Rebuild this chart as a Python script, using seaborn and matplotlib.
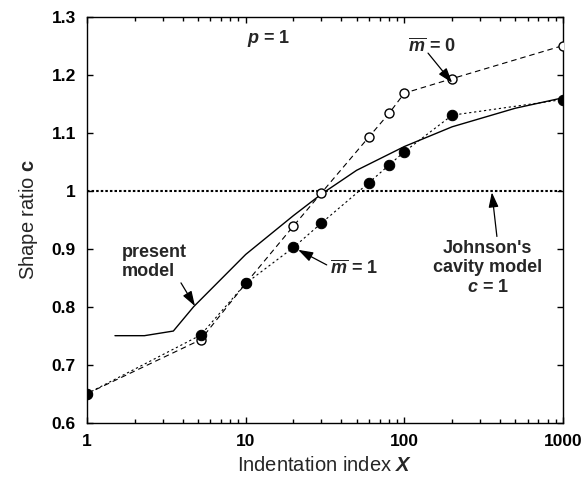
import numpy as np
import pandas as pd
import seaborn as sns
import matplotlib
matplotlib.use("Agg")
import matplotlib.pyplot as plt
from matplotlib.ticker import FixedLocator, FixedFormatter, NullFormatter

sns.set_style("ticks")
plt.rcParams["font.family"] = ["Liberation Sans", "DejaVu Sans"]
plt.rcParams["mathtext.fontset"] = "custom"
plt.rcParams["mathtext.rm"] = "Liberation Sans:bold"
plt.rcParams["mathtext.it"] = "Liberation Sans:italic:bold"
plt.rcParams["mathtext.bf"] = "Liberation Sans:bold"

# data
x_m0 = [1, 5.2, 10, 20, 30, 60, 80, 100, 200, 1000]
c_m0 = [0.65, 0.743, 0.84, 0.939, 0.996, 1.093, 1.133, 1.168, 1.193, 1.25]

x_m1 = [1, 5.2, 10, 20, 30, 60, 80, 100, 200, 1000]
c_m1 = [0.65, 0.751, 0.84, 0.902, 0.944, 1.014, 1.044, 1.067, 1.130, 1.157]

x_model = [1.5, 2.3, 3.5, 4.7, 10, 20, 30, 50, 100, 200, 500, 1000]
c_model = [0.75, 0.75, 0.758, 0.80, 0.89, 0.957, 0.994, 1.035, 1.076, 1.11, 1.142, 1.16]

y_ticks = [0.6, 0.7, 0.8, 0.9, 1.0, 1.1, 1.2, 1.3]
y_labels = ["0.6", "0.7", "0.8", "0.9", "1", "1.1", "1.2", "1.3"]
x_ticks = [1, 10, 100, 1000]
x_labels = ["1", "10", "100", "1000"]
x_minor = [m * d for d in (1, 10, 100) for m in range(2, 10)]

df_m0 = pd.DataFrame({"X": x_m0, "c": c_m0})
df_m1 = pd.DataFrame({"X": x_m1, "c": c_m1})
df_model = pd.DataFrame({"X": x_model, "c": c_model})

W, H, DPI = 5.86, 4.87, 100
box = [0.1485, 0.132, 0.8123, 0.834]
fig = plt.figure(figsize=(W, H), dpi=DPI)
ax = fig.add_axes(box)

ax.axhline(1.0, color="k", lw=1.5, ls=(0, (1.2, 1.0)), zorder=1)

sns.lineplot(data=df_model, x="X", y="c", ax=ax, color="k", lw=1.0,
             sort=False, estimator=None, zorder=2)
sns.lineplot(data=df_m0, x="X", y="c", ax=ax, color="k", lw=0.8,
             ls=(0, (5, 3.5)), marker="o", markersize=6.5,
             markerfacecolor="white", markeredgecolor="k", markeredgewidth=1.0,
             sort=False, estimator=None, zorder=3)
sns.lineplot(data=df_m1, x="X", y="c", ax=ax, color="k", lw=0.8,
             ls=(0, (2, 2.5)), marker="o", markersize=7.5,
             markerfacecolor="k", markeredgecolor="k",
             sort=False, estimator=None, zorder=4)

ax.set_xscale("log")
ax.set_xlim(1, 1000)
ax.set_ylim(0.6, 1.3)
ax.xaxis.set_major_locator(FixedLocator(x_ticks))
ax.xaxis.set_major_formatter(FixedFormatter(x_labels))
ax.xaxis.set_minor_locator(FixedLocator(x_minor))
ax.xaxis.set_minor_formatter(NullFormatter())
ax.yaxis.set_major_locator(FixedLocator(y_ticks))
ax.yaxis.set_major_formatter(FixedFormatter(y_labels))

# tick labels from the axis, tick marks drawn as short inward segments
ax.tick_params(which="both", direction="in", length=0, labelsize=12.5,
               pad=8, colors="k")
for lab in ax.get_xticklabels() + ax.get_yticklabels():
    lab.set_fontweight("bold")

ax_h_px = box[3] * H * DPI
ax_w_px = box[2] * W * DPI
maj_y, min_y = 6 / ax_h_px, 4 / ax_h_px
maj_x = 6 / ax_w_px
tick_kw = dict(colors="k", linewidths=1.0, clip_on=False, zorder=5)
xt = ax.get_xaxis_transform()
yt = ax.get_yaxis_transform()
ax.vlines(x_ticks, 0, maj_y, transform=xt, **tick_kw)
ax.vlines(x_ticks, 1 - maj_y, 1, transform=xt, **tick_kw)
ax.vlines(x_minor, 0, min_y, transform=xt, **tick_kw)
ax.vlines(x_minor, 1 - min_y, 1, transform=xt, **tick_kw)
ax.hlines(y_ticks, 0, maj_x, transform=yt, **tick_kw)
ax.hlines(y_ticks, 1 - maj_x, 1, transform=yt, **tick_kw)

for s in ax.spines.values():
    s.set_linewidth(1.0)
    s.set_color("k")

ax.set_xlabel(r"Indentation index $X$", fontsize=14.5, labelpad=5)
ax.set_ylabel(r"Shape ratio $\mathbf{c}$", fontsize=14.5, labelpad=8)

arrow = dict(arrowstyle="-|>,head_length=0.9,head_width=0.3", color="k",
             lw=0.9, shrinkA=0, shrinkB=0)
tk = dict(fontsize=13, fontweight="bold")

ax.text(10.2, 1.263, r"$p$ = 1", ha="left", va="center", **tk)
ax.text(105, 1.248, r"$\overline{m}$ = 0", ha="left", va="center", **tk)
ax.annotate("", xy=(200, 1.186), xytext=(141, 1.237), arrowprops=arrow)
ax.text(34, 0.865, r"$\overline{m}$ = 1", ha="left", va="center", **tk)
ax.annotate("", xy=(21.4, 0.898), xytext=(32.4, 0.872), arrowprops=arrow)
ax.text(1.66, 0.877, "present\nmodel", ha="left", va="center",
        linespacing=1.15, **tk)
ax.annotate("", xy=(4.79, 0.801), xytext=(3.91, 0.841), arrowprops=arrow)
ax.text(336, 0.867, "Johnson's\ncavity model\n" + r"$c$ = 1", ha="center",
        va="center", linespacing=1.2, **tk)
ax.annotate("", xy=(356, 0.997), xytext=(383, 0.921), arrowprops=arrow)

fig.savefig("out.png", dpi=DPI)
